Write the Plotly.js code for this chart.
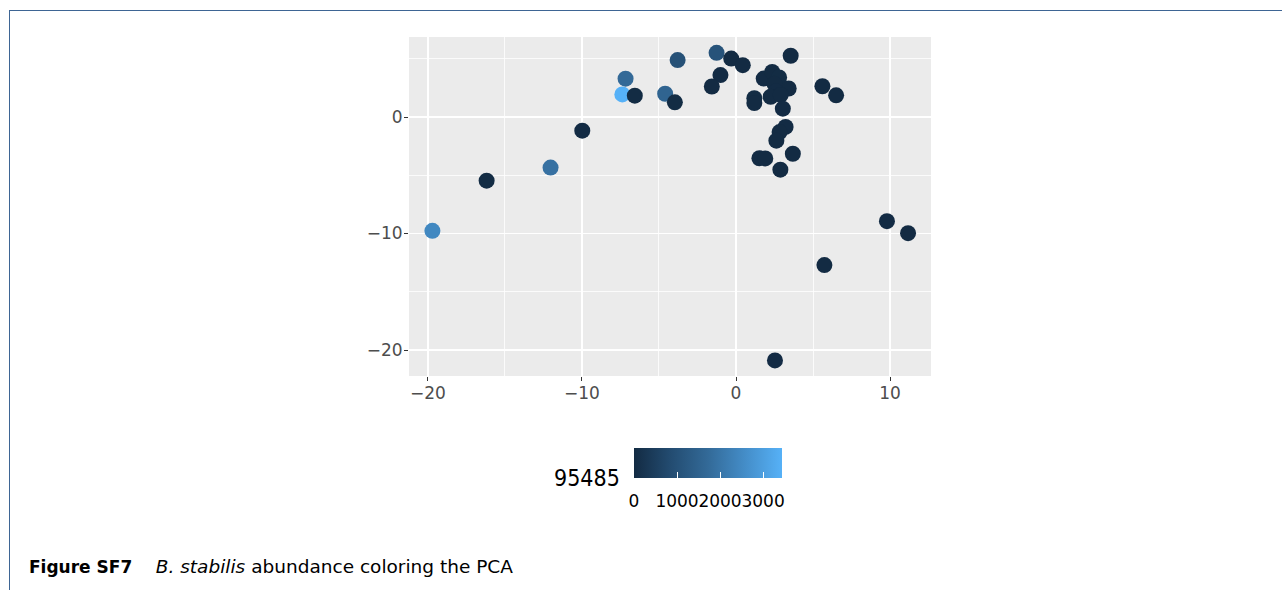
<!DOCTYPE html>
<html>
<head>
<meta charset="utf-8">
<script src="https://cdn.plot.ly/plotly-3.0.1.min.js"></script>
<style>
  html, body { margin: 0; padding: 0; background: #ffffff; }
  #frame { position: absolute; left: 9px; top: 10px; width: 1273px; height: 580px;
           border-top: 1.5px solid #3e6594; border-left: 1.5px solid #3e6594; box-sizing: border-box; }
  #chart { position: absolute; left: 0; top: 0; width: 1282px; height: 590px; }
</style>
</head>
<body>
<div id="frame"></div>
<div id="chart"></div>
<script>
// PCA scores of each sample and the B. stabilis read abundance used for colouring
const pc1 = [-19.71, -16.19, -12.04, -9.98, -7.17, -7.38, -6.57, -4.60, -3.97, -3.79,
             -1.26, -0.31, 0.44, -1.01, -1.57, 3.55, 1.80, 2.35, 2.80, 3.42,
             2.50, 2.60, 2.25, 2.90, 1.19, 1.19, 3.04, 5.61, 6.50, 3.22,
             2.83, 2.62, 1.52, 1.90, 3.69, 2.88, 9.80, 11.17, 5.74, 2.53];
const pc2 = [-9.77, -5.46, -4.34, -1.17, 3.29, 1.94, 1.83, 2.00, 1.26, 4.89,
             5.51, 5.02, 4.45, 3.60, 2.62, 5.26, 3.30, 3.87, 3.40, 2.45,
             2.85, 2.20, 1.74, 1.90, 1.62, 1.20, 0.72, 2.64, 1.86, -0.85,
             -1.29, -2.03, -3.54, -3.55, -3.15, -4.52, -8.94, -9.97, -12.71, -20.89];
const abundance = [2450, 20, 1900, 10, 1700, 3440, 15, 1550, 20, 1000,
                   1050, 0, 5, 10, 0, 5, 10, 0, 20, 5,
                   0, 10, 5, 0, 15, 0, 10, 5, 0, 10,
                   5, 0, 10, 0, 5, 0, 10, 5, 0, 10];
const colourTicks = [0, 1000, 2000, 3000];
const colourTitle = "95485";
const caption = "<span style='font-size:17px'><b>Figure SF7</b></span>&nbsp;&nbsp;&nbsp;&nbsp;<i>B. stabilis</i> abundance coloring the PCA";

// ggplot-like dark-to-light blue gradient
const blues = [[0, "#132b43"], [0.25, "#234c71"], [0.5, "#336a98"], [0.75, "#448dc8"], [1, "#56b1f7"]];
const cRange = [0, 3440];

// colour bar geometry shared by the labelled bar and the white tick overlay
const barBase = {
  orientation: "h", lenmode: "pixels", len: 148, thickness: 30,
  x: 0.5728, xanchor: "center", y: -0.2124, yanchor: "top",
  xpad: 0, ypad: 0, outlinewidth: 0, tickvals: colourTicks
};

const points = {
  type: "scatter", mode: "markers", x: pc1, y: pc2,
  marker: {
    size: 16, color: abundance, colorscale: blues, cmin: cRange[0], cmax: cRange[1],
    line: { width: 0 },
    colorbar: Object.assign({}, barBase, {
      ticktext: colourTicks.map(String), tickangle: 0,
      ticks: "outside", ticklen: 9, tickcolor: "rgba(0,0,0,0)",
      tickfont: { family: "DejaVu Sans", size: 17, color: "#000000" }
    })
  },
  hoverinfo: "x+y"
};

// second bar on top: only the short white tick marks inside the gradient
const tickOverlay = {
  type: "scatter", mode: "markers", x: [null], y: [null], hoverinfo: "skip",
  marker: {
    color: [cRange[0]], colorscale: blues, cmin: cRange[0], cmax: cRange[1], showscale: true,
    colorbar: Object.assign({}, barBase, {
      showticklabels: false, ticks: "inside", ticklen: 6, tickcolor: "#ffffff", tickwidth: 1
    })
  }
};

const axisCommon = {
  showline: false, zeroline: false, ticks: "outside", ticklen: 4, tickcolor: "#333333",
  tickwidth: 1, gridcolor: "#ffffff", gridwidth: 1.6, ticklabelstandoff: -2,
  tickfont: { family: "DejaVu Sans", size: 17, color: "#4d4d4d" }
};

const layout = {
  width: 1282, height: 590,
  margin: { l: 409, r: 351, t: 37, b: 214 },
  paper_bgcolor: "rgba(0,0,0,0)", plot_bgcolor: "#ebebeb",
  showlegend: false,
  xaxis: Object.assign({}, axisCommon, {
    range: [-21.23, 12.66], tickvals: [-20, -10, 0, 10],
    minor: { tickvals: [-15, -5, 5], showgrid: true, gridcolor: "#ffffff", gridwidth: 0.8, ticks: "" }
  }),
  yaxis: Object.assign({}, axisCommon, {
    range: [-22.23, 6.87], tickvals: [-20, -10, 0],
    minor: { tickvals: [-15, -5, 5], showgrid: true, gridcolor: "#ffffff", gridwidth: 0.8, ticks: "" }
  }),
  annotations: [
    { text: colourTitle, xref: "paper", yref: "paper", x: 0.408, y: -0.3009,
      xanchor: "right", yanchor: "middle", showarrow: false,
      font: { family: "DejaVu Sans Condensed", size: 23, color: "#000000" } },
    { text: caption, xref: "paper", yref: "paper", x: -0.7318, y: -0.5605,
      xanchor: "left", yanchor: "middle", showarrow: false,
      font: { family: "DejaVu Sans", size: 18.5, color: "#000000" } }
  ]
};

Plotly.newPlot("chart", [points, tickOverlay], layout, { displayModeBar: false, staticPlot: true });
</script>
</body>
</html>
